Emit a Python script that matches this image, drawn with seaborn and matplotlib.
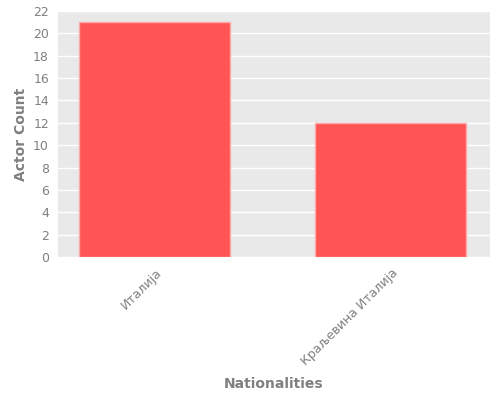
import matplotlib
matplotlib.use("Agg")
import matplotlib.pyplot as plt
import seaborn as sns
import pandas as pd

nationalities = ["Италија", "Краљевина Италија"]
actor_counts = [21, 12]

df = pd.DataFrame({"nationality": nationalities, "count": actor_counts})

sns.set_style("darkgrid", {"axes.facecolor": "#e9e9e9", "grid.color": "white"})
plt.rcParams['font.family'] = ['DejaVu Sans']

fig = plt.figure(figsize=(5, 4), dpi=100)
ax = fig.add_axes([0.116, 0.3575, 0.864, 0.615])

sns.barplot(data=df, x="nationality", y="count", color="#ff5555", saturation=1,
            width=0.64, edgecolor="#ffaaaa", linewidth=1, ax=ax)

ax.set_xlim(-0.41, 1.42)
ax.set_ylim(0, 22)
ax.set_yticks(range(0, 23, 2))
ax.grid(axis="x", visible=False)
ax.grid(axis="y", color="white", linewidth=1)
ax.set_axisbelow(True)

ax.tick_params(axis="both", colors="#aaaaaa", labelcolor="#808080", labelsize=9, length=3, width=0.6)
plt.setp(ax.get_xticklabels(), rotation=45, ha="right", rotation_mode="anchor")

ax.set_xlabel("Nationalities", color="#808080", fontsize=10, fontweight="bold", labelpad=7)
ax.set_ylabel("Actor Count", color="#808080", fontsize=10, fontweight="bold", labelpad=4)

for s in ax.spines.values():
    s.set_visible(False)

fig.savefig("out.png", dpi=100)
